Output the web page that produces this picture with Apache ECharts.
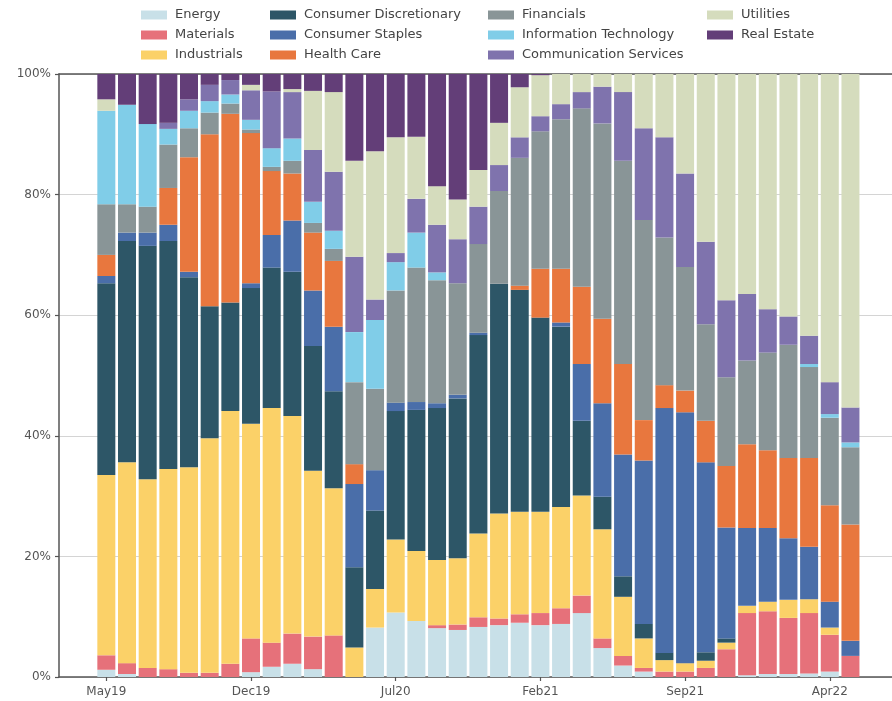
<!DOCTYPE html>
<html>
<head>
<meta charset="utf-8">
<script src="https://cdn.jsdelivr.net/npm/echarts@6/dist/echarts.min.js"></script>
<style>
html,body{margin:0;padding:0;background:#fff;}
#chart{width:892px;height:701px;}
</style>
</head>
<body>
<div id="chart"></div>
<script>
// ---- data (percent share per month) ----
const months = ['May19','Jun19','Jul19','Aug19','Sep19','Oct19','Nov19','Dec19','Jan20','Feb20','Mar20','Apr20','May20','Jun20','Jul20','Aug20','Sep20','Oct20','Nov20','Dec20','Jan21','Feb21','Mar21','Apr21','May21','Jun21','Jul21','Aug21','Sep21','Oct21','Nov21','Dec21','Jan22','Feb22','Mar22','Apr22','May22'];
const tickLabels = ['May19','Dec19','Jul20','Feb21','Sep21','Apr22'];

const energy = [1.2,0.5,0,0,0,0,0,0.8,1.7,2.2,1.3,0,0,8.2,10.7,9.3,8.1,7.8,8.3,8.6,9.0,8.6,8.8,10.6,4.8,1.9,0.9,0,0,0,0,0.3,0.5,0.5,0.6,0.9,0];
const materials = [2.4,1.8,1.5,1.3,0.7,0.7,2.2,5.6,4.0,5.0,5.4,6.9,0,0,0,0,0.5,0.9,1.6,1.1,1.4,2.0,2.6,2.9,1.6,1.6,0.6,0.9,0.9,1.5,4.6,10.3,10.4,9.3,10.0,6.1,3.5];
const industrials = [29.9,33.3,31.3,33.2,34.1,38.9,41.9,35.6,38.9,36.1,27.5,24.4,4.9,6.4,12.1,11.6,10.8,11.0,13.9,17.4,17.0,16.8,16.8,16.6,18.1,9.8,4.9,1.9,1.4,1.2,1.1,1.2,1.6,3.0,2.3,1.2,0];
const consumerDiscretionary = [31.8,36.7,38.7,37.8,31.5,21.9,18.0,22.5,23.3,23.9,20.7,16.1,13.3,13.0,21.3,23.4,25.2,26.5,32.9,38.1,36.8,32.2,29.9,12.4,5.4,3.4,2.4,1.2,0,1.4,0.7,0,0,0,0,0,0];
const consumerStaples = [1.2,1.4,2.2,2.7,0.9,0,0,0.8,5.4,8.5,9.2,10.7,13.8,6.7,1.4,1.3,0.8,0.6,0.4,0,0,0,0.7,9.4,15.5,20.2,27.1,40.6,41.6,31.5,18.4,12.9,12.2,10.2,8.7,4.3,2.5];
const healthCare = [3.5,0,0,6.1,19.0,28.5,31.3,24.9,10.6,7.8,9.6,10.9,3.3,0,0,0,0,0,0,0,0.7,8.1,8.9,12.8,14.0,15.0,6.7,3.8,3.6,6.9,10.2,13.9,12.9,13.3,14.7,16.0,19.3];
const financials = [8.4,4.7,4.3,7.2,4.8,3.6,1.7,0.6,0.7,2.1,1.6,2.0,13.6,13.5,18.6,22.3,20.4,18.5,14.7,15.4,21.2,22.8,24.8,29.6,32.4,33.7,33.2,24.5,20.5,16.0,14.7,13.9,16.2,18.8,15.1,14.5,12.8];
const informationTechnology = [15.5,16.5,13.7,2.6,2.9,1.9,1.5,1.6,3.1,3.7,3.5,3.0,8.3,11.4,4.7,5.8,1.3,0,0,0,0,0,0,0,0,0,0,0,0,0,0,0,0,0,0.5,0.6,0.8];
const communicationServices = [0,0,0,1.0,1.9,2.7,2.4,4.9,9.4,7.7,8.6,9.8,12.5,3.4,1.5,5.6,7.9,7.3,6.2,4.3,3.4,2.5,2.5,2.7,6.1,11.4,15.2,16.6,15.5,13.7,12.8,11.0,7.2,4.7,4.7,5.3,5.8];
const utilities = [1.9,0,0,0,0,0,0,0.9,0,0.5,9.8,13.2,15.9,24.6,19.2,10.3,6.4,6.6,6.1,7.0,8.3,6.8,5.0,3.0,2.1,3.0,9.0,10.5,16.5,27.8,37.5,36.5,39.0,40.2,43.4,51.1,55.3];
const realEstate = [4.2,5.1,8.3,8.1,4.2,1.8,1.0,1.8,2.9,2.5,2.8,3.0,14.4,12.8,10.5,10.4,18.6,20.8,15.9,8.1,2.2,0.2,0,0,0,0,0,0,0,0,0,0,0,0,0,0,0];

const sectors = [
  {name:'Energy', data:energy, color:'#c8e0e8'},
  {name:'Materials', data:materials, color:'#e6717a'},
  {name:'Industrials', data:industrials, color:'#fbd168'},
  {name:'Consumer Discretionary', data:consumerDiscretionary, color:'#2d5667'},
  {name:'Consumer Staples', data:consumerStaples, color:'#4a6ea9'},
  {name:'Health Care', data:healthCare, color:'#e8773e'},
  {name:'Financials', data:financials, color:'#899597'},
  {name:'Information Technology', data:informationTechnology, color:'#80cde8'},
  {name:'Communication Services', data:communicationServices, color:'#7f73ad'},
  {name:'Utilities', data:utilities, color:'#d5dcbd'},
  {name:'Real Estate', data:realEstate, color:'#633e78'}
];

// normalise each month to 100%
const totals = months.map((m, i) => sectors.reduce((s, sec) => s + sec.data[i], 0));
const tickIdx = tickLabels.map(l => months.indexOf(l));

const FONT = 'DejaVu Sans';
const chart = echarts.init(document.getElementById('chart'), null, {renderer:'canvas'});

const legendCols = [
  {left:141, names:['Energy','Materials','Industrials']},
  {left:270, names:['Consumer Discretionary','Consumer Staples','Health Care']},
  {left:488, names:['Financials','Information Technology','Communication Services']},
  {left:707, names:['Utilities','Real Estate']}
];

const option = {
  backgroundColor:'#ffffff',
  animation:false,
  legend: legendCols.map(c => ({
    orient:'vertical',
    left:c.left,
    top:8,
    data:c.names,
    icon:'rect',
    itemWidth:26,
    itemHeight:9,
    itemGap:6,
    padding:0,
    selectedMode:false,
    textStyle:{fontFamily:FONT, fontSize:13, color:'#444', lineHeight:14, padding:[0,0,0,3]}
  })),
  grid:{left:59, right:0, top:74, bottom:24, containLabel:false},
  xAxis:[{
    type:'value',
    min:-2.29,
    max:38.01,
    axisLine:{show:true, onZero:false, lineStyle:{color:'#555', width:1.5}},
    axisTick:{show:true, length:4, customValues:tickIdx, lineStyle:{color:'#555', width:1.2}},
    axisLabel:{show:true, customValues:tickIdx, margin:9, fontFamily:FONT, fontSize:12, color:'#555',
      formatter: v => months[Math.round(v)] || ''},
    splitLine:{show:false}
  },{
    type:'value',
    position:'top',
    min:-2.29,
    max:38.01,
    axisLine:{show:true, onZero:false, lineStyle:{color:'#555', width:1.5}},
    axisTick:{show:false},
    axisLabel:{show:false},
    splitLine:{show:false}
  }],
  yAxis:{
    type:'value',
    min:0,
    max:100,
    interval:20,
    axisLine:{show:true, onZero:false, lineStyle:{color:'#555', width:1.5}},
    axisTick:{show:true, length:4, lineStyle:{color:'#555', width:1.2}},
    axisLabel:{margin:8, fontFamily:FONT, fontSize:12, color:'#555', formatter:'{value}%'},
    splitLine:{show:true, lineStyle:{color:'#d4d4d4', width:1}}
  },
  series: sectors.map(sec => ({
    name:sec.name,
    type:'bar',
    stack:'total',
    xAxisIndex:0,
    barWidth:18,
    itemStyle:{color:sec.color},
    emphasis:{disabled:true},
    // dimension 0 = share (y), dimension 1 = month index (x) so stacking is on y
    encode:{x:1, y:0},
    data: sec.data.map((v, i) => [v / totals[i] * 100, i])
  }))
};
chart.setOption(option);
</script>
</body>
</html>
